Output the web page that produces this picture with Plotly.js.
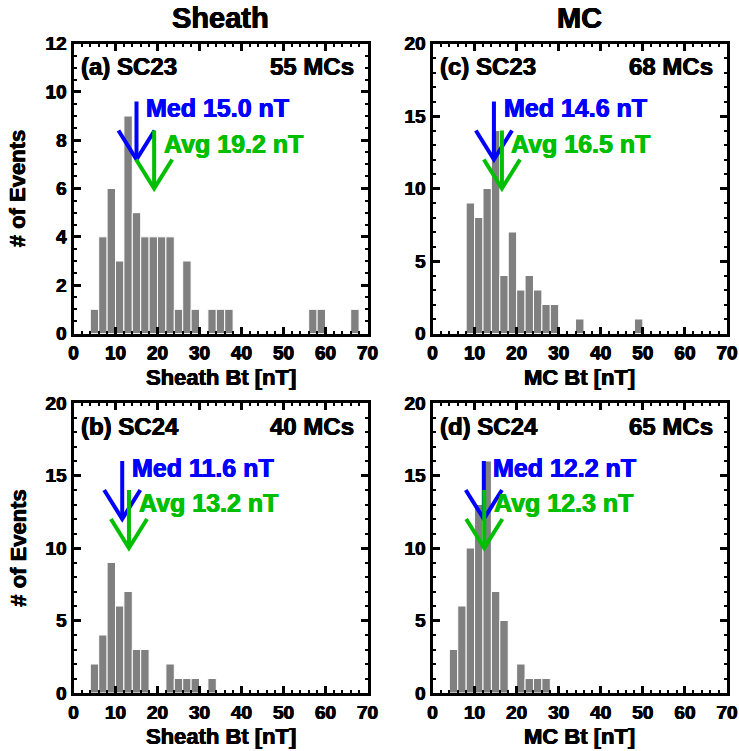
<!DOCTYPE html>
<html><head><meta charset="utf-8">
<script src="https://cdn.plot.ly/plotly-3.0.1.min.js"></script>
<style>html,body{margin:0;padding:0;background:#fff}</style>
</head><body><div id="chart" style="width:739px;height:751px"></div>
<script>
// ---- data ----
const columnTitles = ['Sheath', 'MC'];
const panelLabels = ['(a) SC23', '(b) SC24', '(c) SC23', '(d) SC24'];
const countLabels = ['55 MCs', '40 MCs', '68 MCs', '65 MCs'];
const xTitles = ['Sheath Bt [nT]', 'Sheath Bt [nT]', 'MC Bt [nT]', 'MC Bt [nT]'];
const yTitle = '# of Events';
const binWidth = 2;
// bin left edges [nT] and counts
const binsA = [4, 6, 8, 10, 12, 14, 16, 18, 20, 22, 24, 26, 28, 32, 34, 36, 56, 58, 66];
const countsA = [1, 4, 6, 3, 9, 5, 4, 4, 4, 4, 1, 3, 1, 1, 1, 1, 1, 1, 1];
const binsB = [4, 6, 8, 10, 12, 14, 16, 22, 24, 26, 28, 32];
const countsB = [2, 4, 9, 6, 7, 3, 3, 2, 1, 1, 1, 1];
const binsC = [8, 10, 12, 14, 16, 18, 20, 22, 24, 26, 28, 34, 48];
const countsC = [9, 8, 10, 14, 4, 7, 3, 4, 3, 2, 2, 1, 1];
const binsD = [4, 6, 8, 10, 12, 14, 16, 20, 22, 24, 26];
const countsD = [3, 6, 10, 13, 16, 7, 5, 2, 1, 1, 1];
const medians = [15.0, 11.6, 14.6, 12.2];
const averages = [19.2, 13.2, 16.5, 12.3];
const yMax = [12, 20, 20, 20];
const yDtick = [2, 5, 5, 5];
const yMinor = [0.5, 1, 1, 1];

// ---- build ----
const bins = [binsA, binsB, binsC, binsD];
const counts = [countsA, countsB, countsC, countsD];
const W = 739, H = 751;
const xDom = [[73.5 / W, 367.5 / W], [73.5 / W, 367.5 / W], [432.5 / W, 727 / W], [432.5 / W, 727 / W]];
const yDomTop = [1 - 333.5 / H, 1 - 43.5 / H], yDomBot = [1 - 693 / H, 1 - 403 / H];
const yDom = [yDomTop, yDomBot, yDomTop, yDomBot];
const BLUE = 'rgb(0,0,255)', GREEN = 'rgb(0,190,0)';
const FONT = 'Liberation Sans, Arial, sans-serif';
const armX = 4.3;
function heavy(size, color) {
  return {family: FONT, size: size, weight: 'bold', color: color,
    shadow: `0.45px 0 0 ${color}, -0.45px 0 0 ${color}, 0 0.3px 0 ${color}`};
}

const traces = [], annotations = [];
const layout = {
  width: W, height: H, margin: {l: 0, r: 0, t: 0, b: 0},
  paper_bgcolor: 'white', plot_bgcolor: 'white', showlegend: false,
  bargap: 0, font: {family: FONT, color: 'black'}
};

for (let i = 0; i < 4; i++) {
  const n = i + 1, xa = 'x' + (n === 1 ? '' : n), ya = 'y' + (n === 1 ? '' : n);
  const xKey = 'xaxis' + (n === 1 ? '' : n), yKey = 'yaxis' + (n === 1 ? '' : n);
  traces.push({
    type: 'bar', x: bins[i].map(b => b + binWidth / 2), y: counts[i], width: binWidth,
    xaxis: xa, yaxis: ya,
    marker: {color: 'rgb(128,128,128)', line: {color: 'white', width: 1}},
    hoverinfo: 'x+y'
  });
  const Y = yMax[i], m = medians[i], a = averages[i];
  traces.push({
    type: 'scatter', mode: 'lines', xaxis: xa, yaxis: ya,
    x: [m, m, null, m - armX, m, m + armX],
    y: [0.8 * Y, 0.6 * Y, null, 0.7 * Y, 0.6 * Y, 0.7 * Y],
    line: {color: BLUE, width: 4}, hoverinfo: 'skip'
  });
  traces.push({
    type: 'scatter', mode: 'lines', xaxis: xa, yaxis: ya,
    x: [a, a, null, a - armX, a, a + armX],
    y: [0.7 * Y, 0.5 * Y, null, 0.6 * Y, 0.5 * Y, 0.6 * Y],
    line: {color: GREEN, width: 4}, hoverinfo: 'skip'
  });
  layout[xKey] = {
    domain: xDom[i], anchor: ya, range: [0, 70], dtick: 10, tick0: 0,
    ticks: 'inside', ticklen: 7, tickwidth: 3, tickcolor: 'black',
    minor: {dtick: 2, ticks: 'inside', ticklen: 3, tickwidth: 2, tickcolor: 'black'},
    showline: true, linewidth: 3, linecolor: 'black', mirror: 'ticks',
    showgrid: false, zeroline: false, fixedrange: true,
    tickfont: heavy(19, 'black')
  };
  layout[yKey] = {
    domain: yDom[i], anchor: xa, range: [0, Y], dtick: yDtick[i], tick0: 0,
    ticks: 'inside', ticklen: 7, tickwidth: 3, tickcolor: 'black',
    minor: {dtick: yMinor[i], ticks: 'inside', ticklen: 3, tickwidth: 2, tickcolor: 'black'},
    showline: true, linewidth: 3, linecolor: 'black', mirror: 'ticks',
    showgrid: false, zeroline: false, fixedrange: true,
    tickfont: heavy(19, 'black')
  };
  const xd = xa + ' domain', yd = ya + ' domain';
  annotations.push({xref: xd, yref: yd, x: 0.02, y: 0.919, xanchor: 'left', yanchor: 'middle', showarrow: false,
    text: panelLabels[i], font: heavy(24, 'black')});
  annotations.push({xref: xd, yref: yd, x: 0.96, y: 0.919, xanchor: 'right', yanchor: 'middle', showarrow: false,
    text: countLabels[i], font: heavy(24, 'black')});
  annotations.push({xref: xa, yref: ya, x: m + 1.8, y: 0.776 * Y, xanchor: 'left', yanchor: 'middle', showarrow: false,
    text: 'Med ' + m.toFixed(1) + ' nT', font: heavy(25, BLUE)});
  annotations.push({xref: xa, yref: ya, x: a + 1.8, y: 0.655 * Y, xanchor: 'left', yanchor: 'middle', showarrow: false,
    text: 'Avg ' + a.toFixed(1) + ' nT', font: heavy(25, GREEN)});
  annotations.push({xref: xd, yref: yd, x: 0.5, y: -0.15, xanchor: 'center', yanchor: 'middle', showarrow: false,
    text: xTitles[i], font: heavy(22, 'black')});
  if (i < 2) {
    annotations.push({xref: xd, yref: yd, x: -0.19, y: 0.5, xanchor: 'center', yanchor: 'middle', showarrow: false,
      textangle: -90, text: yTitle, font: heavy(22, 'black')});
  }
}
// column titles
annotations.push({xref: 'x domain', yref: 'paper', x: 0.5, y: 1 - 18 / H, xanchor: 'center', yanchor: 'middle', showarrow: false,
  text: columnTitles[0], font: heavy(29, 'black')});
annotations.push({xref: 'x3 domain', yref: 'paper', x: 0.5, y: 1 - 18 / H, xanchor: 'center', yanchor: 'middle', showarrow: false,
  text: columnTitles[1], font: heavy(29, 'black')});
layout.annotations = annotations;

Plotly.newPlot('chart', traces, layout, {displayModeBar: false, staticPlot: true});
</script></body></html>
